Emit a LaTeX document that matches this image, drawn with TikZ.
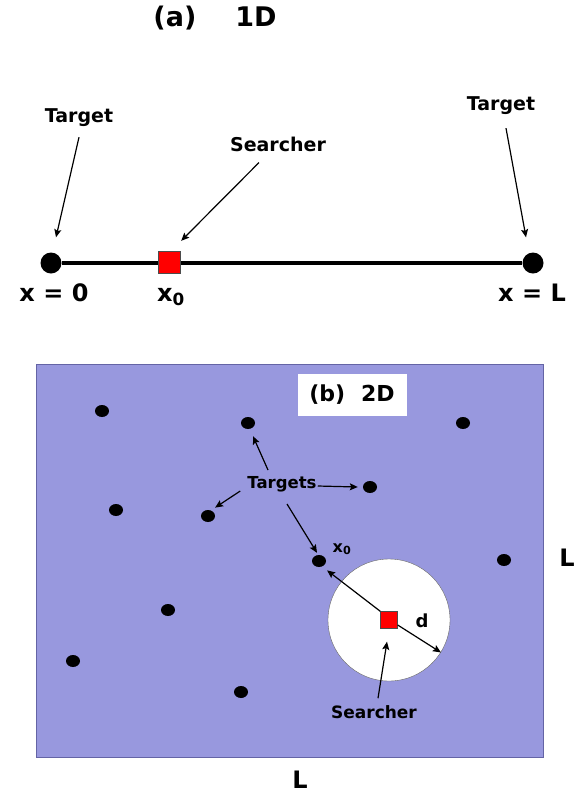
\documentclass[tikz,border=0pt]{standalone}
\usepackage{fontspec}
\setmainfont{DejaVu Sans}
\usepackage{tikz}
\usetikzlibrary{positioning,arrows.meta,shapes.geometric}

\definecolor{fondo}{RGB}{152,152,222}
\definecolor{borde}{RGB}{100,100,165}

\begin{document}
\begin{tikzpicture}[x=1pt,y=-1pt,
    etiq/.style={inner sep=0pt,font=\fontsize{#1}{#1}\selectfont\bfseries},
    extremo/.style={circle,fill=black,inner sep=0pt,minimum size=21pt},
    punto/.style={ellipse,fill=black,inner sep=0pt,minimum width=14pt,minimum height=12pt},
    buscador/.style={rectangle,draw=black!70,fill=red,inner sep=0pt,minimum size=#1},
    flecha/.style={-{Stealth[length=8pt,width=7pt,inset=1.5pt]},line width=1.2pt}]
    \useasboundingbox (0,0) rectangle (585,796);

    % Panel (a)
    \node[etiq=27] (titA) at (215,18) {(a)\hspace{39pt}1D};

    % Recta y extremos
    \node[extremo] (izq) at (51,263) {};
    \node[extremo] (der) at (533,263) {};
    \draw[line width=4.5pt] (izq) -- (der);
    \node[buscador=22pt] (cuadA) at (169,262) {};

    % Etiquetas
    \node[etiq=24] (x0izq) at (54,293) {x = 0};
    \node[etiq=24] (x0A) at (171,297) {x\textsubscript{0}};
    \node[etiq=24] (xL) at (532,293) {x = L};
    \node[etiq=19] (objIzq) at (79,118) {Target};
    \node[etiq=19] (objDer) at (501,106) {Target};
    \node[etiq=19] (busA) at (278,144) {Searcher};

    % Flechas
    \draw[flecha] ([yshift=-10pt]objIzq.south) -- ([xshift=5pt,yshift=15pt]izq.north);
    \draw[flecha] ([xshift=5pt,yshift=-13pt]objDer.south) -- ([xshift=-7pt,yshift=15pt]der.north);
    \draw[flecha] ([xshift=-19pt,yshift=-11pt]busA.south) -- ([xshift=1pt,yshift=10pt]cuadA.north east);

    % Panel (b)
    \draw[fill=fondo,draw=borde,line width=0.8pt] (36,364) rectangle (543,757);
    \node[fill=white,etiq=22,minimum width=109pt,minimum height=42pt] (titB) at (352,395) {(b)\hspace{16pt}2D};

    % Blancos
    \foreach \nombre/\pos in {t1/{(102,411)},t2/{(248,423)},t3/{(463,423)},t4/{(370,487)},
        t5/{(116,510)},t6/{(208,516)},t7/{(319,561)},t8/{(504,560)},
        t9/{(168,610)},t10/{(73,661)},t11/{(241,692)}}
        \node[punto] (\nombre) at \pos {};

    % Zona y buscador
    \node[circle,draw=black!60,fill=white,inner sep=0pt,minimum size=122pt] (zona) at (389,620) {};
    \node[buscador=17pt] (cuadB) at (389,620) {};

    % Etiquetas
    \node[etiq=16.5] (objs) at (282,484) {Targets};
    \node[etiq=16] (x0B) at (342,549) {x\textsubscript{0}};
    \node[etiq=18] (dist) at (422,621) {d};
    \node[etiq=17] (busB) at (374,712) {Searcher};
    \node[etiq=24] (lado) at (567,558) {L};
    \node[etiq=24] (base) at (300,780) {L};

    % Flechas
    \draw[flecha] ([xshift=-14pt,yshift=6pt]objs.north) -- ([xshift=5pt,yshift=-7pt]t2.south);
    \draw[flecha] ([xshift=-7pt,yshift=-7pt]objs.west) -- ([xshift=2pt,yshift=4pt]t6.north east);
    \draw[flecha] ([xshift=1pt,yshift=-2pt]objs.east) -- ([xshift=-5pt]t4.west);
    \draw[flecha] ([xshift=5pt,yshift=-12pt]objs.south) -- ([xshift=-2pt,yshift=2pt]t7.north);
    \draw[flecha] (cuadB.north west) -- ([xshift=3pt,yshift=-5pt]t7.south east);
    \draw[flecha] ([yshift=-5pt]cuadB.east) -- (zona.-32);
    \draw[flecha] ([xshift=4pt,yshift=7pt]busB.north) -- ([xshift=-2pt,yshift=-13pt]cuadB.south);
\end{tikzpicture}
\end{document}
